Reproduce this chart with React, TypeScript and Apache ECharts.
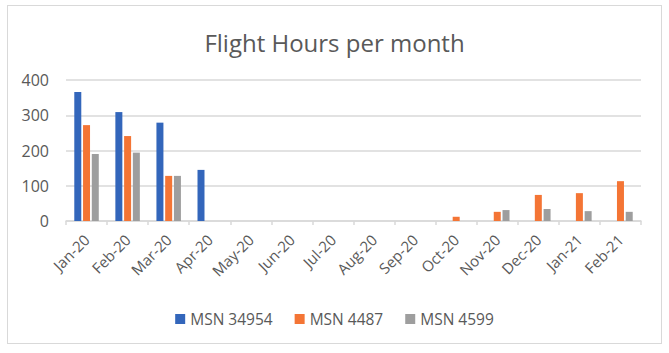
import React, { useEffect, useRef } from "react";
import * as echarts from "echarts";

const categories = ["Jan-20", "Feb-20", "Mar-20", "Apr-20", "May-20", "Jun-20", "Jul-20", "Aug-20", "Sep-20", "Oct-20", "Nov-20", "Dec-20", "Jan-21", "Feb-21"];
const msn34954 = [366, 309, 279, 145, 0, 0, 0, 0, 0, 0, 0, 0, 0, 0];
const msn4487 = [272, 241, 128, 0, 0, 0, 0, 0, 0, 12, 26, 74, 79, 113];
const msn4599 = [190, 194, 128, 0, 0, 0, 0, 0, 0, 0, 31, 34, 28, 26];
const yTicks = [0, 100, 200, 300, 400];

const FONT = "'Open Sans', 'Noto Sans', sans-serif";
const TXT = "#595959";
const LINE = "#d9d9d9";

export default function App() {
  const ref = useRef<HTMLDivElement>(null);
  useEffect(() => {
    if (!ref.current) return;
    const chart = echarts.init(ref.current, undefined, { renderer: "svg" });
    const mk = (name: string, data: number[], color: string) => ({
      name,
      type: "bar",
      data: data.map((v) => (v === 0 ? null : v)),
      barWidth: 7,
      barGap: "25%",
      itemStyle: { color },
    });
    chart.setOption({
      animation: false,
      textStyle: { fontFamily: FONT },
      title: {
        text: "Flight Hours per month",
        left: "center",
        top: 25,
        textStyle: { fontFamily: FONT, fontSize: 24, fontWeight: "normal", color: TXT },
      },
      legend: {
        left: "center",
        top: 306,
        itemWidth: 10,
        itemHeight: 10,
        itemGap: 22,
        icon: "rect",
        textStyle: { fontFamily: FONT, fontSize: 15.5, color: TXT },
        data: ["MSN 34954", "MSN 4487", "MSN 4599"],
      },
      grid: { left: 66, right: 28, top: 80, bottom: 132, containLabel: false },
      xAxis: {
        type: "category",
        data: categories,
        axisLine: { lineStyle: { color: LINE, width: 1.5 } },
        axisTick: { show: true, length: 4, lineStyle: { color: LINE, width: 1.5 } },
        axisLabel: { rotate: 45, fontSize: 15, color: TXT, fontFamily: FONT, margin: 16 },
      },
      yAxis: {
        type: "value",
        min: yTicks[0],
        max: yTicks[yTicks.length - 1],
        interval: 100,
        axisLine: { show: false },
        axisTick: { show: false },
        axisLabel: { fontSize: 16, color: TXT, fontFamily: FONT, margin: 17 },
        splitLine: { lineStyle: { color: LINE, width: 1.5 } },
      },
      series: [
        mk("MSN 34954", msn34954, "#3366bb"),
        mk("MSN 4487", msn4487, "#f47535"),
        mk("MSN 4599", msn4599, "#9e9e9e"),
      ],
    });
    return () => chart.dispose();
  }, []);
  return (
    <div style={{ position: "fixed", left: 0, top: 0, width: 669, height: 353, background: "#fff" }}>
      <div
        style={{
          position: "absolute",
          left: 7,
          top: 5,
          width: 655,
          height: 339,
          border: "1.5px solid " + LINE,
          boxSizing: "border-box",
        }}
      />
      <div ref={ref} style={{ position: "absolute", left: 0, top: 0, width: 669, height: 353 }} />
    </div>
  );
}
